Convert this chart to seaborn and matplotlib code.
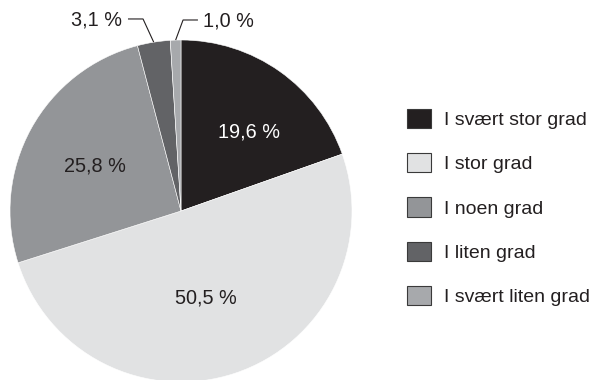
import numpy as np
import matplotlib
matplotlib.use("Agg")
import matplotlib.pyplot as plt
from matplotlib.patches import Patch
import seaborn as sns

# Survey answers and their shares (percent)
categories = ["I svært stor grad", "I stor grad", "I noen grad", "I liten grad", "I svært liten grad"]
shares = [19.6, 50.5, 25.8, 3.1, 1.0]
colors = ["#231f20", "#e1e2e3", "#939598", "#626366", "#a7a9ac"]

sns.set_theme(style="white")
plt.rcParams["font.family"] = ["Liberation Sans", "DejaVu Sans"]
TEXT = "#231f20"
FS = 14

fig = plt.figure(figsize=(5.93, 3.80), dpi=100)
W, H = 593, 380
cx, cy, r = 181, 211, 171
ax = fig.add_axes([(cx - r) / W, (H - cy - r) / H, 2 * r / W, 2 * r / H])

wedges, _ = ax.pie(shares, colors=colors, startangle=90, counterclock=False,
                   radius=1.0, wedgeprops=dict(linewidth=0.4, edgecolor="#ffffff"))
ax.set_xlim(-1, 1)
ax.set_ylim(-1, 1)
ax.set_aspect("equal")
ax.axis("off")


def fmt(v):
    return f"{v:.1f}".replace(".", ",") + " %"


# mid-angle of each wedge (degrees)
mids = [(w.theta1 + w.theta2) / 2 for w in wedges]

# labels inside the three large wedges
inside = {0: (0.61, -5.5, "white"), 1: (0.53, -2.5, TEXT), 2: (0.57, 1.4, TEXT)}
for i, (rad, nudge, col) in inside.items():
    a = np.deg2rad(mids[i] + nudge)
    ax.text(rad * np.cos(a), rad * np.sin(a), fmt(shares[i]), ha="center", va="center",
            fontsize=FS + 0.3, color=col)

# leader-line labels for the two small wedges
outside = {3: (-0.222, 1.123, -0.31, "right"), 4: (0.012, 1.117, 0.099, "left")}
for i, (ex, ey, hx, ha) in outside.items():
    a = np.deg2rad(mids[i])
    px, py = np.cos(a), np.sin(a)
    ax.plot([px, ex, hx], [py, ey, ey], color=TEXT, lw=0.8, clip_on=False,
            solid_capstyle="butt")
    tx = hx - 0.035 if ha == "right" else hx + 0.03
    ax.text(tx, ey - 0.005, fmt(shares[i]), ha=ha, va="center", fontsize=FS + 0.3,
            color=TEXT, clip_on=False)

handles = [Patch(facecolor=c, edgecolor="#3a3a3a", linewidth=0.8) for c in colors]
fig.legend(handles, categories, loc="upper left",
           bbox_to_anchor=(407 / W, 1 - 109 / H), frameon=False, fontsize=FS,
           handlelength=1.24, handleheight=1.13, handletextpad=0.68,
           labelspacing=1.24, borderpad=0, borderaxespad=0, labelcolor=TEXT)

fig.savefig("out.png", dpi=100)
